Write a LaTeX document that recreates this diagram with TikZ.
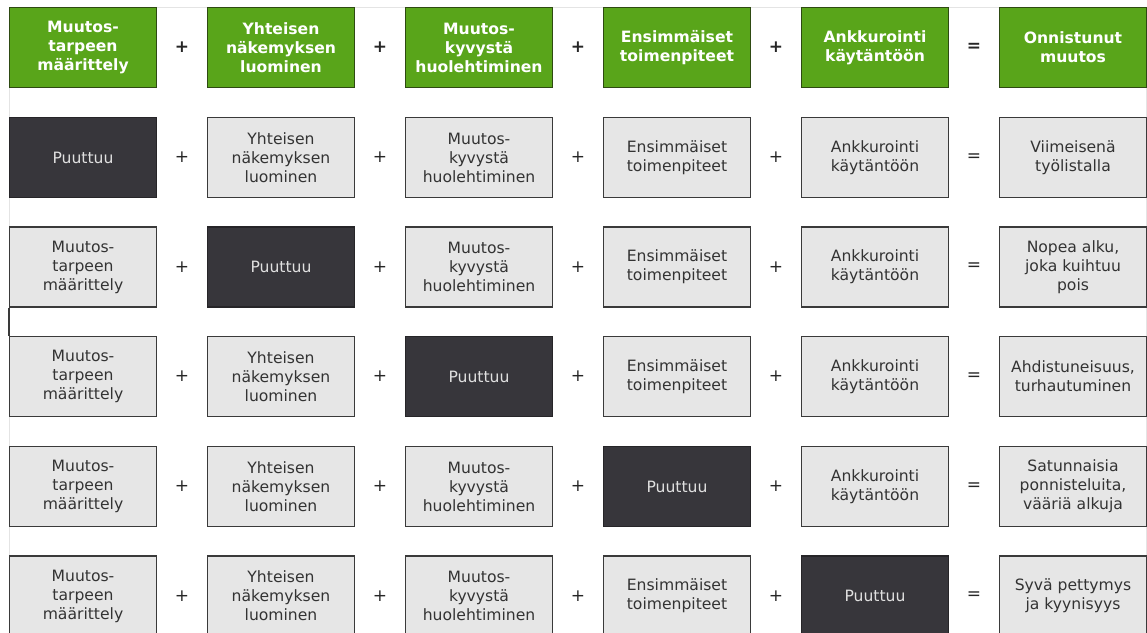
\documentclass[tikz,border=0pt]{standalone}
\usepackage{fontspec}
\setmainfont{DejaVu Sans}
\definecolor{hdrgreen}{HTML}{59A51A}
\definecolor{hdredge}{HTML}{2E4A12}
\definecolor{lightfill}{HTML}{E6E6E6}
\definecolor{boxedge}{HTML}{3A3A3A}
\definecolor{darkfill}{HTML}{37363B}
\definecolor{darkedge}{HTML}{262528}
\definecolor{txtgray}{HTML}{333333}
\definecolor{framegray}{HTML}{E4E4E4}
\tikzset{
  cellbase/.style={minimum width=147pt, minimum height=80pt, inner sep=0pt, align=center, line width=1.5pt,
    font=\fontsize{15.6}{19}\selectfont},
  hdr/.style={cellbase, fill=hdrgreen, draw=hdredge, text=white, font=\fontsize{15.6}{19}\selectfont\bfseries},
  lt/.style={cellbase, fill=lightfill, draw=boxedge, text=txtgray},
  miss/.style={cellbase, fill=darkfill, draw=darkedge, text=white!88!black},
  sign/.style={inner sep=0pt, text=black!85, font=\fontsize{17}{19}\selectfont},
  hsign/.style={sign, font=\fontsize{17}{19}\selectfont\bfseries}
}
\begin{document}
\begin{tikzpicture}[x=1pt,y=-1pt]
\useasboundingbox (0,0) rectangle (1147,632);
\clip (0,0) rectangle (1147,632);
\fill[white] (0,0) rectangle (1147,632);
\draw[framegray, line width=1pt] (9,7) -- (1146,7) -- (1146,640);
\draw[framegray, line width=1pt] (9,7) -- (9,640);
\draw[boxedge, line width=1.5pt] (9,308) -- (9,336);
% header
\node[hdr] (h1) at (83,47.5) {Muutos-\\tarpeen\\määrittely};
\node[hdr] (h2) at (281,47.5) {Yhteisen\\näkemyksen\\luominen};
\node[hdr] (h3) at (479,47.5) {Muutos-\\kyvystä\\huolehtiminen};
\node[hdr] (h4) at (677,47.5) {Ensimmäiset\\toimenpiteet};
\node[hdr] (h5) at (875,47.5) {Ankkurointi\\käytäntöön};
\node[hdr] (h6) at (1073,47.5) {Onnistunut\\muutos};
% row 1
\node[miss] (r1c1) at (83,157.5) {Puuttuu};
\node[lt] (r1c2) at (281,157.5) {Yhteisen\\näkemyksen\\luominen};
\node[lt] (r1c3) at (479,157.5) {Muutos-\\kyvystä\\huolehtiminen};
\node[lt] (r1c4) at (677,157.5) {Ensimmäiset\\toimenpiteet};
\node[lt] (r1c5) at (875,157.5) {Ankkurointi\\käytäntöön};
\node[lt] (r1c6) at (1073,157.5) {Viimeisenä\\työlistalla};
% row 2
\node[lt] (r2c1) at (83,267) {Muutos-\\tarpeen\\määrittely};
\node[miss] (r2c2) at (281,267) {Puuttuu};
\node[lt] (r2c3) at (479,267) {Muutos-\\kyvystä\\huolehtiminen};
\node[lt] (r2c4) at (677,267) {Ensimmäiset\\toimenpiteet};
\node[lt] (r2c5) at (875,267) {Ankkurointi\\käytäntöön};
\node[lt] (r2c6) at (1073,267) {Nopea alku,\\joka kuihtuu\\pois};
% row 3
\node[lt] (r3c1) at (83,376.5) {Muutos-\\tarpeen\\määrittely};
\node[lt] (r3c2) at (281,376.5) {Yhteisen\\näkemyksen\\luominen};
\node[miss] (r3c3) at (479,376.5) {Puuttuu};
\node[lt] (r3c4) at (677,376.5) {Ensimmäiset\\toimenpiteet};
\node[lt] (r3c5) at (875,376.5) {Ankkurointi\\käytäntöön};
\node[lt] (r3c6) at (1073,376.5) {Ahdistuneisuus,\\turhautuminen};
% row 4
\node[lt] (r4c1) at (83,486.5) {Muutos-\\tarpeen\\määrittely};
\node[lt] (r4c2) at (281,486.5) {Yhteisen\\näkemyksen\\luominen};
\node[lt] (r4c3) at (479,486.5) {Muutos-\\kyvystä\\huolehtiminen};
\node[miss] (r4c4) at (677,486.5) {Puuttuu};
\node[lt] (r4c5) at (875,486.5) {Ankkurointi\\käytäntöön};
\node[lt] (r4c6) at (1073,486.5) {Satunnaisia\\ponnisteluita,\\vääriä alkuja};
% row 5
\node[lt] (r5c1) at (83,596) {Muutos-\\tarpeen\\määrittely};
\node[lt] (r5c2) at (281,596) {Yhteisen\\näkemyksen\\luominen};
\node[lt] (r5c3) at (479,596) {Muutos-\\kyvystä\\huolehtiminen};
\node[lt] (r5c4) at (677,596) {Ensimmäiset\\toimenpiteet};
\node[miss] (r5c5) at (875,596) {Puuttuu};
\node[lt] (r5c6) at (1073,596) {Syvä pettymys\\ja kyynisyys};
% signs
\foreach \sx [count=\i] in {182,380,578,776} {
  \node[hsign] (hs\i) at (\sx,47.5) {+};
}
\node[hsign] (hs5) at (974,47.5) {=};
\foreach \ry [count=\r] in {157.5,267,376.5,486.5,596} {
  \foreach \sx [count=\i] in {182,380,578,776} {
    \node[sign] (s\r\i) at (\sx,\ry) {+};
  }
  \node[sign] (s\r5) at (974,\ry) {=};
}
\end{tikzpicture}
\end{document}
